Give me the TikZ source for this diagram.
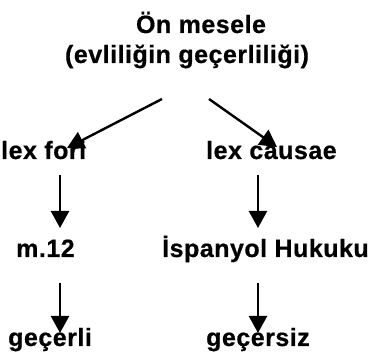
\documentclass[tikz,border=0pt]{standalone}
\usepackage{fontspec}
\setmainfont{Liberation Sans}[BoldFont={Liberation Sans Bold}]
\newfontfamily\lblfont{Liberation Sans Bold}[LetterSpace=2,FakeBold=0.6]
\usetikzlibrary{arrows.meta}
\tikzset{
  lbl/.style={inner sep=0pt, font=\lblfont\fontsize{25}{30}\selectfont},
  arr/.style={line width=2.4pt, -{Triangle[width=18pt,length=17pt]}}
}
\begin{document}
\begin{tikzpicture}[x=1pt,y=1pt]
\useasboundingbox (0,0) rectangle (368,361);
\node[lbl, anchor=base] (top1) at (201,328) {Ön mesele};
\node[lbl, anchor=base] (top2) at (187,298) {(evliliğin geçerliliği)};
\node[lbl, anchor=base west] (lexfori) at (1,202) {lex fori};
\node[lbl, anchor=base west] (lexcausae) at (206,202) {lex causae};
\node[lbl, anchor=base west] (m12) at (16,104) {m.12};
\node[lbl, anchor=base west] (isp) at (162,104) {İspanyol Hukuku};
\node[lbl, anchor=base west] (gecerli) at (8,15) {geçerli};
\node[lbl, anchor=base west] (gecersiz) at (206,15) {geçersiz};
\coordinate (s1) at (162,262);
\coordinate (e1) at (67,213);
\coordinate (s2) at (209,262);
\coordinate (e2) at (277,214);
\coordinate (s3) at (60,186);
\coordinate (e3) at (60,133);
\coordinate (s4) at (258,186);
\coordinate (e4) at (258,133);
\coordinate (s5) at (60,78);
\coordinate (e5) at (60,28);
\coordinate (s6) at (258,78);
\coordinate (e6) at (258,28);
\draw[arr] (s1) -- (e1);
\draw[arr] (s2) -- (e2);
\draw[arr] (s3) -- (e3);
\draw[arr] (s4) -- (e4);
\draw[arr] (s5) -- (e5);
\draw[arr] (s6) -- (e6);
\end{tikzpicture}
\end{document}
